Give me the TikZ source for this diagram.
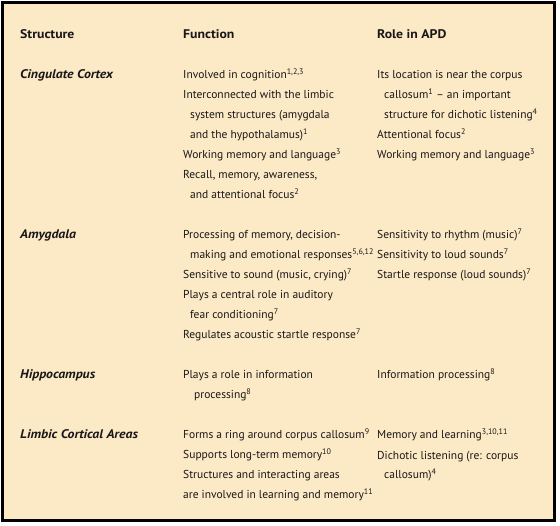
\documentclass[tikz,border=0pt]{standalone}
\usepackage{fontspec}
\setmainfont{PT Sans}
\newfontfamily\widefont[FakeStretch=1.1]{PT Sans}
\definecolor{paper}{HTML}{FCE9C5}
\definecolor{ink}{HTML}{1A1718}
\newcommand{\rf}[1]{\textsuperscript{#1}}
\newcommand{\ind}{\hspace*{7pt}}
% anchor = base of the LAST line; y = first baseline + 20*(lines-1)
\tikzset{
  cell/.style={anchor=base west, align=left, inner sep=0pt, text=ink,
    font=\fontsize{11.5}{20}\selectfont},
  headcell/.style={cell, font=\widefont\fontsize{12.5}{20}\selectfont\bfseries},
  namecell/.style={cell, font=\widefont\fontsize{12.5}{20}\selectfont\bfseries\itshape}
}
\begin{document}
\begin{tikzpicture}[x=1pt,y=-1pt]
\useasboundingbox (0,0) rectangle (560,526);
\fill[white] (0,0) rectangle (560,526);
\draw[line width=3pt, fill=paper] (2.5,2.5) rectangle (554.5,520.5);
% header
\node[headcell] (hs) at (20,39) {Structure};
\node[headcell] (hf) at (183,39) {Function};
\node[headcell] (hr) at (377,39) {Role in APD};
% Cingulate (first baseline 79)
\node[namecell] (s1) at (20,79) {Cingulate Cortex};
\node[cell] (f1) at (183,199) {Involved in cognition\rf{1,2,3}\\
Interconnected with the limbic\\
\ind system structures (amygdala\\
\ind and the hypothalamus)\rf{1}\\
Working memory and language\rf{3}\\
Recall, memory, awareness,\\
\ind and attentional focus\rf{2}};
\node[cell] (r1) at (377,159) {Its location is near the corpus\\
\ind callosum\rf{1} -- an important\\
\ind structure for dichotic listening\rf{4}\\
Attentional focus\rf{2}\\
Working memory and language\rf{3}};
% Amygdala (first baseline 239)
\node[namecell] (s2) at (20,239) {Amygdala};
\node[cell] (f2) at (183,339) {Processing of memory, decision-\\
\ind making and emotional responses\rf{5,6,12}\\
Sensitive to sound (music, crying)\rf{7}\\
Plays a central role in auditory\\
\ind fear conditioning\rf{7}\\
Regulates acoustic startle response\rf{7}};
\node[cell] (r2) at (377,279) {Sensitivity to rhythm (music)\rf{7}\\
Sensitivity to loud sounds\rf{7}\\
Startle response (loud sounds)\rf{7}};
% Hippocampus (first baseline 379)
\node[namecell] (s3) at (20,379) {Hippocampus};
\node[cell] (f3) at (183,399) {Plays a role in information\\
\hspace*{11pt}processing\rf{8}};
\node[cell] (r3) at (377,379) {Information processing\rf{8}};
% Limbic (first baseline 439)
\node[namecell] (s4) at (20,439) {Limbic Cortical Areas};
\node[cell] (f4) at (183,499) {Forms a ring around corpus callosum\rf{9}\\
Supports long-term memory\rf{10}\\
Structures and interacting areas\\
are involved in learning and memory\rf{11}};
\node[cell] (r4) at (377,479) {Memory and learning\rf{3,10,11}\\
Dichotic listening (re: corpus\\
\ind callosum)\rf{4}};
\end{tikzpicture}
\end{document}
